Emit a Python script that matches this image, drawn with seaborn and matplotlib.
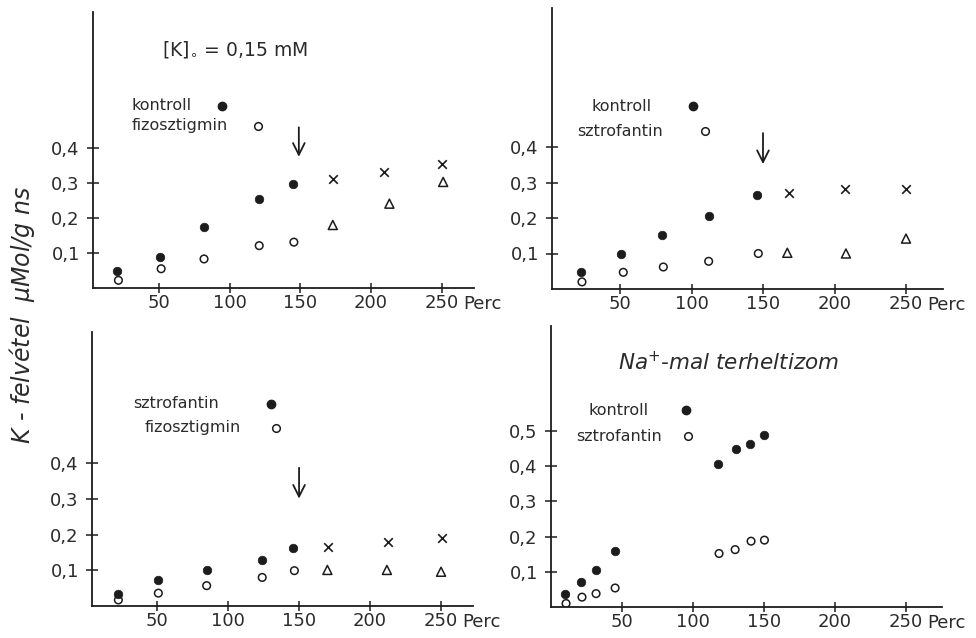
import matplotlib
matplotlib.use("Agg")
import matplotlib.pyplot as plt
import seaborn as sns

# ---- data (time in minutes, K uptake in µMol/g) ----
# panel A: [K]o = 0.15 mM, kontroll vs fizosztigmin
a_kontroll_t = [20.5, 50.7, 82, 121, 145]
a_kontroll_v = [0.048, 0.089, 0.173, 0.254, 0.298]
a_fizo_t = [21.5, 51.7, 82, 121, 145.5]
a_fizo_v = [0.022, 0.055, 0.083, 0.121, 0.131]
a_cross_t = [173, 209, 250]
a_cross_v = [0.311, 0.332, 0.354]
a_tri_t = [173, 213, 251]
a_tri_v = [0.180, 0.241, 0.303]

# panel B: kontroll vs sztrofantin
b_kontroll_t = [22.5, 51, 79.6, 112, 146]
b_kontroll_v = [0.048, 0.100, 0.153, 0.205, 0.264]
b_szt_t = [23.4, 52.3, 80.3, 112, 146.7]
b_szt_v = [0.020, 0.047, 0.062, 0.078, 0.100]
b_cross_t = [168, 207, 250]
b_cross_v = [0.271, 0.283, 0.283]
b_tri_t = [167, 208, 250]
b_tri_v = [0.102, 0.100, 0.142]

# panel C: sztrofantin vs fizosztigmin
c_szt_t = [22.5, 50.2, 84.8, 123.6, 146]
c_szt_v = [0.033, 0.072, 0.101, 0.129, 0.162]
c_fizo_t = [22.5, 50.7, 84.8, 124, 146.7]
c_fizo_v = [0.017, 0.036, 0.057, 0.080, 0.099]
c_cross_t = [170.7, 212.6, 250.7]
c_cross_v = [0.166, 0.180, 0.190]
c_tri_t = [170, 212, 250.2]
c_tri_v = [0.101, 0.101, 0.096]

# panel D: Na+-loaded muscle, kontroll vs sztrofantin
d_kontroll_t = [10.3, 21.3, 31.9, 45.3, 118, 130.4, 140.2, 150]
d_kontroll_v = [0.036, 0.071, 0.106, 0.159, 0.405, 0.448, 0.462, 0.488]
d_szt_t = [10.8, 22, 31.9, 45.3, 118.4, 129.7, 140.9, 150.3]
d_szt_v = [0.010, 0.028, 0.038, 0.054, 0.152, 0.163, 0.187, 0.190]

x_ticks = [50, 100, 150, 200, 250]
x_ticklabels = ["50", "100", "150", "200", "250"]
y_ticks_4 = [0.1, 0.2, 0.3, 0.4]
y_ticklabels_4 = ["0,1", "0,2", "0,3", "0,4"]
y_ticks_5 = [0.1, 0.2, 0.3, 0.4, 0.5]
y_ticklabels_5 = ["0,1", "0,2", "0,3", "0,4", "0,5"]

INK = "#1c1c1c"
TXT = "#2b2b2b"

sns.set_theme(style="white")
plt.rcParams["font.family"] = ["DejaVu Sans"]

W, H = 976, 638
fig = plt.figure(figsize=(W / 100, H / 100), dpi=100)
fig.patch.set_facecolor("white")


def make_axes(x0px, left_px, right_px, y0px, top_px, px_per_x, px_per_y):
    """Place an axes so that data value 0 maps to pixel (x0px, y0px)."""
    xmin = (left_px - x0px) / px_per_x
    xmax = (right_px - x0px) / px_per_x
    ymax = (y0px - top_px) / px_per_y
    ax = fig.add_axes([left_px / W, 1 - y0px / H,
                       (right_px - left_px) / W, (y0px - top_px) / H])
    ax.set_xlim(xmin, xmax)
    ax.set_ylim(0, ymax)
    return ax


def style_axes(ax, yticks, yticklabels):
    sns.despine(ax=ax)
    for s in ("left", "bottom"):
        ax.spines[s].set_color(INK)
        ax.spines[s].set_linewidth(1.3)
    ax.set_facecolor("white")
    ax.set_xticks(x_ticks)
    ax.set_xticklabels(x_ticklabels)
    ax.set_yticks(yticks)
    ax.set_yticklabels(yticklabels)
    ax.tick_params(axis="x", bottom=True, direction="inout", length=7,
                   width=1.1, color=INK, pad=1, labelsize=13, labelcolor=TXT)
    ax.tick_params(axis="y", left=True, direction="inout", length=9,
                   width=1.1, color=INK, pad=5, labelsize=13, labelcolor=TXT)
    ax.set_xlabel("")
    ax.set_ylabel("")
    ax.grid(False)
    ax.annotate("Perc", xy=(265, 0), xycoords="data", xytext=(0, -5),
                textcoords="offset points", ha="left", va="top",
                fontsize=13, color=TXT, annotation_clip=False)


def filled(ax, t, v):
    sns.scatterplot(x=t, y=v, ax=ax, marker="o", s=38, color=INK,
                    edgecolor=INK, linewidth=0.5, zorder=3)


def hollow(ax, t, v):
    sns.scatterplot(x=t, y=v, ax=ax, marker="o", s=30, facecolor="none",
                    edgecolor=INK, linewidth=1.1, zorder=3)


def cross(ax, t, v):
    sns.scatterplot(x=t, y=v, ax=ax, marker="x", s=38, color=INK,
                    linewidth=1.2, zorder=3)


def tri(ax, t, v):
    sns.scatterplot(x=t, y=v, ax=ax, marker="^", s=42, facecolor="none",
                    edgecolor=INK, linewidth=1.1, zorder=3)


def key(ax, label, x_text, x_mark, y, is_filled, ha="left"):
    ax.text(x_text, y, label, fontsize=11.5, color=TXT,
            ha=ha, va="center")
    if is_filled:
        ax.plot([x_mark], [y], "o", ms=6, color=INK, mec=INK)
    else:
        ax.plot([x_mark], [y], "o", ms=5.5, mfc="none", mec=INK, mew=1.1)


def arrow(ax, x, y_top, y_bot):
    ax.annotate("", xy=(x, y_bot), xytext=(x, y_top),
                arrowprops=dict(arrowstyle="->,head_length=0.7,head_width=0.35",
                                color=INK, lw=1.3))


# ---- panel A (top left) ----
axA = make_axes(88, 93, 474, 288, 12, 1.415, 350)
filled(axA, a_kontroll_t, a_kontroll_v)
hollow(axA, a_fizo_t, a_fizo_v)
cross(axA, a_cross_t, a_cross_v)
tri(axA, a_tri_t, a_tri_v)
style_axes(axA, y_ticks_4, y_ticklabels_4)
key(axA, "kontroll", 31, 95, 0.52, True)
key(axA, "fizosztigmin", 31, 120, 0.464, False)
arrow(axA, 149, 0.467, 0.367)
axA.text(52, 0.68, r"[K]$_{\circ}$ = 0,15 mM", fontsize=13.5, color=TXT,
         ha="left", va="center")

# ---- panel B (top right) ----
axB = make_axes(548.5, 552, 943, 289, 8, 1.43, 355)
filled(axB, b_kontroll_t, b_kontroll_v)
hollow(axB, b_szt_t, b_szt_v)
cross(axB, b_cross_t, b_cross_v)
tri(axB, b_tri_t, b_tri_v)
style_axes(axB, y_ticks_4, y_ticklabels_4)
key(axB, "kontroll", 51, 101, 0.515, True, ha="center")
key(axB, "sztrofantin", 20, 109.5, 0.444, False)
arrow(axB, 150, 0.447, 0.344)

# ---- panel C (bottom left) ----
axC = make_axes(86.5, 92, 473, 606, 332, 1.417, 357)
filled(axC, c_szt_t, c_szt_v)
hollow(axC, c_fizo_t, c_fizo_v)
cross(axC, c_cross_t, c_cross_v)
tri(axC, c_tri_t, c_tri_v)
style_axes(axC, y_ticks_4, y_ticklabels_4)
key(axC, "sztrofantin", 33, 130, 0.567, True)
key(axC, "fizosztigmin", 41, 134, 0.50, False)
arrow(axC, 150, 0.395, 0.293)

# ---- panel D (bottom right) ----
axD = make_axes(550.7, 551, 942, 607, 326, 1.422, 352)
filled(axD, d_kontroll_t, d_kontroll_v)
hollow(axD, d_szt_t, d_szt_v)
style_axes(axD, y_ticks_5, y_ticklabels_5)
key(axD, "kontroll", 48, 95, 0.559, True, ha="center")
key(axD, "sztrofantin", 18, 96.4, 0.485, False)
axD.text(47, 0.695, r"Na$^{+}$-mal terheltizom", fontsize=15.5, style="italic",
         color=TXT, ha="left", va="center")

# shared y label
fig.text(22 / W, 1 - 315 / H, r"K - felvétel  $\mu$Mol/g ns", rotation=90,
         fontsize=17, style="italic", color=TXT, ha="center", va="center")

fig.savefig("out.png", dpi=100, facecolor="white")
